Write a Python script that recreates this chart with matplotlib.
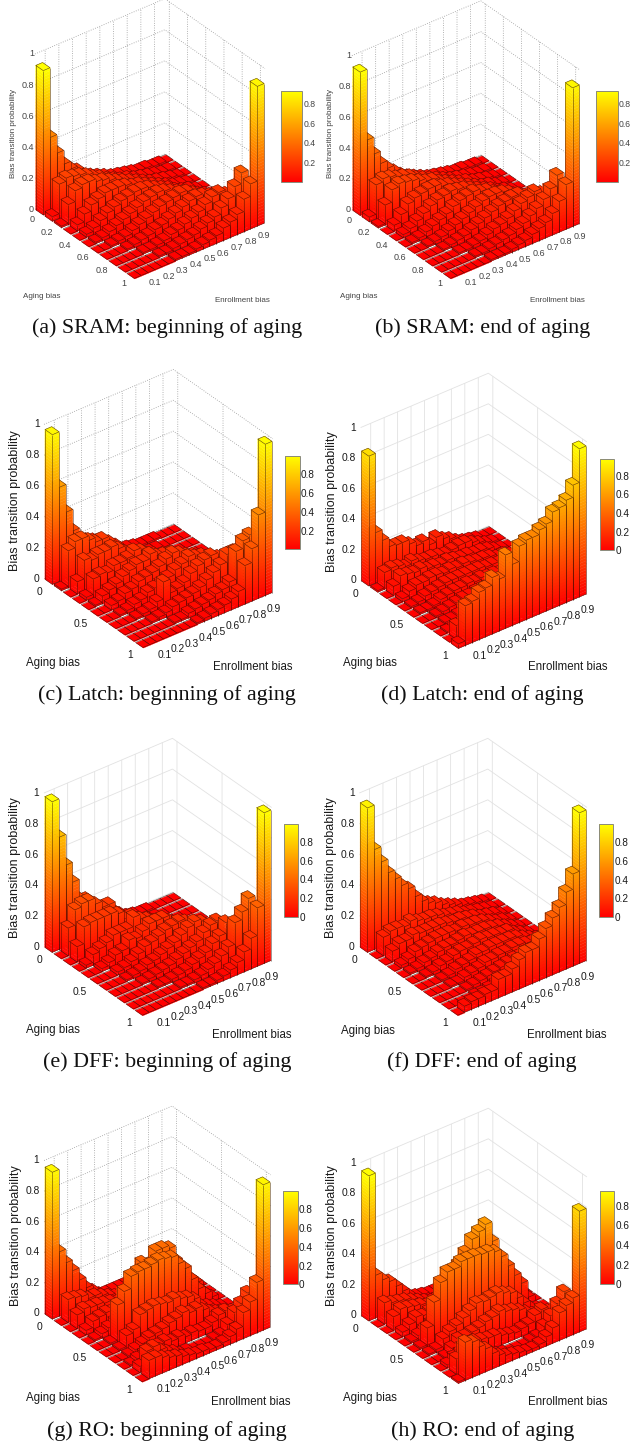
import numpy as np
import matplotlib
matplotlib.use("Agg")
import matplotlib.pyplot as plt
from matplotlib import cm
from matplotlib.colors import Normalize
from mpl_toolkits.mplot3d import proj3d
from mpl_toolkits.mplot3d.art3d import Poly3DCollection, Line3DCollection

W, H = 630, 1446

# bias transition probabilities in hundredths, rows aging 0..1, columns enrollment 0.05..0.95
sram_begin = [
    [93, 48, 36, 27, 22, 19, 14, 12, 10, 8, 6, 5, 4, 3, 2, 2, 1, 1, 0],
    [3, 22, 24, 23, 22, 20, 17, 15, 12, 10, 8, 7, 5, 4, 3, 2, 1, 1, 0],
    [1, 13, 20, 22, 22, 20, 19, 17, 15, 13, 11, 9, 7, 5, 4, 3, 2, 1, 0],
    [0, 4, 9, 13, 15, 17, 17, 17, 16, 14, 13, 11, 9, 7, 5, 3, 2, 1, 0],
    [0, 2, 4, 7, 10, 12, 14, 15, 16, 16, 15, 13, 11, 9, 6, 4, 3, 1, 0],
    [0, 1, 2, 4, 6, 8, 10, 12, 14, 15, 16, 15, 13, 11, 9, 6, 4, 2, 0],
    [0, 0, 1, 2, 3, 5, 7, 9, 11, 13, 14, 15, 16, 15, 12, 9, 6, 3, 0],
    [0, 0, 0, 1, 2, 3, 4, 6, 7, 9, 11, 13, 15, 16, 15, 13, 9, 5, 1],
    [0, 0, 0, 0, 1, 1, 2, 3, 5, 6, 8, 10, 12, 15, 18, 19, 16, 11, 2],
    [0, 0, 0, 0, 0, 1, 1, 2, 3, 4, 5, 7, 9, 11, 15, 19, 25, 32, 3],
    [0, 0, 0, 0, 0, 0, 1, 1, 1, 2, 3, 4, 5, 8, 10, 13, 21, 29, 90],
]
sram_end = [
    [93, 47, 36, 28, 23, 19, 15, 12, 10, 8, 6, 5, 4, 3, 2, 2, 1, 1, 0],
    [3, 22, 24, 23, 21, 20, 18, 15, 13, 11, 9, 7, 5, 4, 3, 2, 1, 1, 0],
    [1, 13, 21, 23, 22, 21, 19, 17, 16, 13, 11, 9, 7, 6, 4, 3, 2, 1, 0],
    [0, 4, 9, 14, 16, 17, 18, 18, 16, 15, 13, 11, 9, 7, 5, 4, 2, 1, 0],
    [0, 2, 4, 7, 10, 13, 15, 16, 17, 16, 15, 13, 11, 9, 7, 4, 3, 1, 0],
    [0, 1, 2, 4, 6, 8, 10, 13, 15, 16, 17, 15, 14, 11, 9, 6, 4, 2, 0],
    [0, 0, 1, 2, 3, 5, 7, 9, 11, 13, 15, 16, 16, 15, 13, 9, 6, 3, 0],
    [0, 0, 0, 1, 2, 3, 4, 6, 8, 10, 12, 14, 15, 16, 16, 13, 9, 5, 1],
    [0, 0, 0, 0, 1, 1, 2, 3, 5, 7, 8, 10, 13, 16, 18, 20, 17, 11, 2],
    [0, 0, 0, 0, 0, 1, 1, 2, 3, 4, 5, 7, 9, 12, 15, 19, 24, 31, 3],
    [0, 0, 0, 0, 0, 0, 1, 1, 1, 2, 3, 4, 6, 8, 10, 14, 20, 29, 90],
]
latch_begin = [
    [97, 61, 43, 29, 21, 19, 17, 15, 11, 6, 4, 3, 2, 1, 1, 1, 0, 0, 0],
    [1, 24, 28, 28, 25, 22, 22, 18, 14, 8, 5, 3, 2, 1, 1, 0, 0, 0, 0],
    [0, 8, 20, 18, 20, 20, 21, 18, 14, 11, 8, 5, 3, 2, 1, 0, 0, 0, 0],
    [0, 2, 12, 13, 12, 15, 15, 16, 19, 17, 13, 11, 8, 5, 3, 1, 0, 0, 0],
    [0, 1, 5, 7, 9, 12, 14, 16, 16, 19, 16, 15, 14, 11, 8, 4, 2, 0, 0],
    [0, 0, 3, 4, 7, 8, 11, 12, 13, 15, 18, 20, 18, 15, 13, 7, 3, 1, 0],
    [0, 0, 1, 2, 4, 5, 8, 9, 10, 12, 15, 17, 20, 18, 17, 11, 7, 2, 0],
    [0, 0, 0, 1, 2, 3, 6, 17, 8, 9, 11, 15, 18, 20, 21, 18, 12, 4, 0],
    [0, 0, 0, 0, 1, 2, 3, 5, 6, 7, 8, 10, 13, 16, 19, 24, 24, 12, 1],
    [0, 0, 0, 0, 0, 0, 1, 1, 3, 4, 5, 6, 8, 9, 12, 30, 35, 37, 2],
    [0, 0, 0, 0, 0, 0, 0, 0, 1, 2, 3, 4, 5, 7, 10, 25, 34, 54, 98],
]
latch_end = [
    [85, 33, 26, 20, 19, 19, 16, 13, 14, 10, 13, 10, 8, 5, 3, 2, 1, 0, 0],
    [1, 11, 12, 11, 9, 11, 9, 8, 8, 7, 6, 7, 8, 8, 6, 4, 2, 1, 0],
    [0, 6, 11, 10, 9, 10, 8, 8, 7, 8, 7, 6, 6, 5, 5, 4, 2, 1, 0],
    [0, 2, 5, 7, 7, 8, 8, 7, 8, 7, 8, 7, 6, 6, 5, 3, 3, 1, 0],
    [0, 1, 2, 4, 5, 6, 7, 7, 7, 7, 7, 7, 6, 6, 5, 4, 2, 1, 0],
    [0, 1, 1, 2, 4, 5, 6, 6, 7, 6, 7, 6, 6, 5, 5, 3, 2, 1, 0],
    [0, 0, 1, 2, 3, 4, 5, 5, 6, 6, 6, 7, 5, 6, 4, 3, 3, 1, 0],
    [0, 0, 1, 1, 2, 4, 4, 5, 5, 6, 6, 5, 5, 4, 4, 3, 2, 1, 0],
    [0, 1, 1, 2, 3, 3, 4, 5, 6, 5, 5, 5, 4, 4, 3, 3, 2, 1, 0],
    [0, 9, 9, 8, 8, 7, 7, 8, 8, 6, 6, 5, 5, 4, 3, 3, 2, 1, 1],
    [3, 26, 27, 31, 32, 37, 34, 48, 40, 50, 52, 52, 55, 57, 63, 64, 67, 75, 97],
]
dff_begin = [
    [98, 73, 53, 40, 27, 25, 20, 16, 12, 9, 6, 3, 2, 1, 1, 0, 0, 0, 0],
    [0, 18, 28, 30, 30, 26, 22, 22, 15, 10, 7, 4, 2, 1, 1, 0, 0, 0, 0],
    [0, 10, 21, 22, 22, 22, 22, 20, 15, 15, 11, 7, 4, 2, 1, 0, 0, 0, 0],
    [0, 2, 7, 9, 11, 14, 14, 14, 20, 17, 15, 12, 9, 6, 3, 1, 0, 0, 0],
    [0, 0, 2, 4, 7, 8, 13, 12, 15, 18, 18, 18, 14, 10, 6, 2, 1, 0, 0],
    [0, 0, 0, 2, 3, 5, 8, 11, 12, 14, 16, 17, 18, 16, 12, 5, 3, 0, 0],
    [0, 0, 0, 1, 2, 3, 5, 6, 8, 10, 12, 15, 18, 20, 18, 12, 4, 1, 0],
    [0, 0, 0, 0, 1, 2, 3, 4, 5, 7, 9, 11, 13, 17, 20, 21, 10, 2, 0],
    [0, 0, 0, 0, 0, 1, 1, 2, 3, 4, 6, 8, 10, 14, 17, 24, 14, 4, 0],
    [0, 0, 0, 0, 0, 0, 0, 1, 1, 2, 3, 5, 7, 10, 14, 28, 33, 40, 1],
    [0, 0, 0, 0, 0, 0, 0, 0, 0, 1, 1, 2, 3, 5, 8, 13, 20, 38, 98],
]
dff_end = [
    [94, 65, 55, 46, 40, 34, 30, 23, 18, 15, 13, 10, 8, 6, 4, 3, 2, 1, 0],
    [0, 12, 14, 14, 13, 15, 13, 12, 12, 11, 9, 8, 7, 5, 4, 3, 2, 1, 0],
    [0, 7, 10, 10, 12, 11, 11, 11, 11, 10, 9, 9, 8, 7, 5, 4, 3, 1, 0],
    [0, 2, 4, 7, 8, 9, 10, 10, 10, 9, 10, 9, 9, 8, 6, 4, 3, 1, 0],
    [0, 1, 2, 4, 5, 7, 8, 8, 9, 10, 9, 9, 9, 8, 7, 5, 3, 1, 0],
    [0, 0, 1, 2, 4, 5, 7, 8, 8, 9, 10, 9, 9, 8, 8, 5, 3, 1, 0],
    [0, 0, 0, 1, 2, 4, 5, 6, 8, 8, 9, 9, 9, 9, 8, 6, 4, 2, 0],
    [0, 0, 0, 1, 1, 3, 4, 5, 7, 7, 8, 8, 9, 9, 8, 7, 4, 2, 0],
    [0, 0, 0, 0, 1, 2, 3, 4, 5, 6, 7, 8, 8, 9, 9, 8, 6, 3, 0],
    [0, 0, 0, 0, 1, 1, 2, 3, 4, 5, 7, 7, 8, 9, 9, 10, 9, 5, 1],
    [0, 4, 5, 5, 6, 6, 12, 12, 15, 19, 22, 22, 27, 32, 37, 42, 50, 60, 98],
]
ro_begin = [
    [96, 42, 33, 26, 18, 11, 7, 3, 2, 2, 2, 2, 3, 3, 3, 4, 2, 1, 0],
    [0, 15, 14, 13, 10, 10, 8, 6, 4, 3, 3, 3, 3, 4, 3, 2, 1, 0, 0],
    [0, 9, 11, 10, 10, 9, 8, 6, 8, 6, 5, 6, 8, 9, 6, 3, 2, 0, 0],
    [0, 3, 7, 8, 9, 8, 8, 9, 9, 10, 12, 16, 20, 22, 12, 7, 3, 1, 0],
    [0, 1, 3, 5, 7, 8, 9, 22, 38, 35, 42, 42, 40, 30, 22, 13, 10, 2, 0],
    [0, 0, 1, 24, 31, 39, 40, 40, 41, 42, 41, 40, 34, 29, 20, 12, 7, 3, 0],
    [0, 0, 1, 8, 10, 18, 19, 20, 19, 18, 19, 17, 16, 13, 7, 5, 3, 1, 0],
    [0, 0, 1, 3, 5, 7, 8, 9, 11, 12, 14, 12, 13, 10, 7, 5, 3, 1, 0],
    [0, 1, 3, 4, 6, 6, 7, 5, 6, 4, 5, 4, 4, 6, 9, 10, 8, 3, 0],
    [0, 4, 12, 13, 9, 6, 4, 1, 1, 0, 0, 0, 1, 2, 7, 13, 17, 22, 1],
    [0, 12, 12, 10, 8, 7, 5, 4, 3, 3, 2, 2, 3, 5, 8, 17, 22, 33, 95],
]
ro_end = [
    [95, 28, 23, 20, 15, 10, 5, 3, 2, 1, 1, 1, 2, 3, 3, 3, 2, 1, 0],
    [0, 14, 12, 11, 10, 8, 6, 4, 2, 2, 2, 3, 4, 5, 4, 3, 1, 0, 0],
    [0, 9, 12, 11, 10, 9, 7, 5, 6, 7, 6, 6, 8, 9, 7, 4, 2, 0, 0],
    [0, 3, 6, 9, 8, 9, 9, 10, 12, 13, 15, 18, 22, 25, 14, 8, 4, 1, 0],
    [0, 1, 3, 5, 7, 8, 14, 28, 38, 44, 51, 54, 57, 44, 25, 12, 9, 2, 0],
    [0, 1, 12, 27, 38, 43, 43, 46, 46, 46, 45, 45, 43, 38, 30, 22, 15, 4, 0],
    [0, 1, 2, 7, 10, 12, 15, 18, 21, 20, 21, 22, 20, 18, 13, 8, 3, 1, 0],
    [0, 0, 1, 5, 9, 9, 10, 11, 13, 14, 16, 14, 13, 11, 8, 5, 3, 1, 0],
    [0, 2, 5, 6, 8, 10, 9, 8, 8, 6, 5, 4, 5, 6, 10, 12, 9, 4, 0],
    [0, 10, 16, 15, 12, 9, 5, 2, 1, 0, 0, 0, 1, 2, 7, 12, 18, 24, 1],
    [1, 25, 23, 18, 15, 10, 7, 5, 4, 3, 2, 2, 3, 6, 10, 18, 21, 24, 79],
]

enroll_ticks = [1, 3, 5, 7, 9, 11, 13, 15, 17]
enroll_labels = ["0.1", "0.2", "0.3", "0.4", "0.5", "0.6", "0.7", "0.8", "0.9"]
z_ticks = [0, 0.2, 0.4, 0.6, 0.8, 1]
z_labels = ["0", "0.2", "0.4", "0.6", "0.8", "1"]

panels = [
    dict(name="(a) SRAM: beginning of aging", data=sram_begin, vmax=0.93, cbmin=0.0,
         L=(35, 208), B=(135, 279), R=(265, 225), cb=(281, 91, 302, 182),
         cap=(167, 328), aging=(42, 297), enroll=(242, 300), zlab=(13.5, 133), small=True,
         dotted=True, cbt=[0.2, 0.4, 0.6, 0.8]),
    dict(name="(b) SRAM: end of aging", data=sram_end, vmax=0.93, cbmin=0.0,
         L=(351.7, 209), B=(451.7, 279), R=(580, 225), cb=(596, 91, 617.5, 182),
         cap=(482.5, 328), aging=(358.5, 297), enroll=(557, 300), zlab=(330, 133), small=True,
         dotted=True, cbt=[0.2, 0.4, 0.6, 0.8]),
    dict(name="(c) Latch: beginning of aging", data=latch_begin, vmax=0.995, cbmin=0.01,
         L=(44, 577), B=(144, 649), R=(272.7, 594), cb=(285, 455.5, 299.5, 549),
         cap=(166.7, 695), aging=(53.3, 663.5), enroll=(252.7, 667.5), zlab=(15, 501), small=False,
         dotted=True, cbt=[0.2, 0.4, 0.6, 0.8]),
    dict(name="(d) Latch: end of aging", data=latch_end, vmax=0.98, cbmin=0.0,
         L=(360.7, 581), B=(459, 649), R=(587, 594), cb=(599.7, 458.7, 614.3, 550.3),
         cap=(482, 695), aging=(370, 663.5), enroll=(567.7, 667.5), zlab=(331.7, 502), small=False,
         dotted=False, cbt=[0, 0.2, 0.4, 0.6, 0.8]),
    dict(name="(e) DFF: beginning of aging", data=dff_begin, vmax=0.99, cbmin=0.0,
         L=(44, 944), B=(143, 1016.7), R=(271.7, 963), cb=(283.7, 824, 298.3, 916.7),
         cap=(166.7, 1062), aging=(53.3, 1030.5), enroll=(251.7, 1035), zlab=(15, 868), small=False,
         dotted=False, cbt=[0, 0.2, 0.4, 0.6, 0.8]),
    dict(name="(f) DFF: end of aging", data=dff_end, vmax=0.99, cbmin=0.0,
         L=(359, 944), B=(459, 1016.7), R=(586.7, 963), cb=(598.7, 824.3, 613.3, 917),
         cap=(482, 1062), aging=(368.3, 1031), enroll=(566.7, 1035), zlab=(331, 868), small=False,
         dotted=False, cbt=[0, 0.2, 0.4, 0.6, 0.8]),
    dict(name="(g) RO: beginning of aging", data=ro_begin, vmax=0.99, cbmin=0.0,
         L=(44, 1311.7), B=(143, 1383), R=(270.7, 1329), cb=(283.3, 1191.3, 297.7, 1284.3),
         cap=(167, 1430.7), aging=(53.3, 1398), enroll=(251, 1402), zlab=(15.7, 1236), small=False,
         dotted=True, cbt=[0, 0.2, 0.4, 0.6, 0.8]),
    dict(name="(h) RO: end of aging", data=ro_end, vmax=0.945, cbmin=0.0,
         L=(360.7, 1315), B=(459, 1384), R=(587, 1330), cb=(599.7, 1191.3, 614.3, 1284.3),
         cap=(482.7, 1430.7), aging=(370, 1398), enroll=(567.7, 1402), zlab=(332.3, 1236), small=False,
         dotted=False, cbt=[0, 0.2, 0.4, 0.6, 0.8]),
]

sans = "Liberation Sans"
serif = "Liberation Serif"
cmap = matplotlib.colormaps["autumn"]
fig = plt.figure(figsize=(W / 100, H / 100), dpi=100)


def to_pixels(ax, x, y, z):
    px, py, _ = proj3d.proj_transform(x, y, z, ax.get_proj())
    return ax.transData.transform((px, py))


def fit_axes(ax, p):
    # scale and shift the square 3d axes so the floor corners land where they are in the picture
    corners = [(-0.5, -0.5, 0), (-0.5, 10.5, 0), (18.5, 10.5, 0)]
    targets = np.array([[q[0], H - q[1]] for q in (p["L"], p["B"], p["R"])])
    ax.apply_aspect()
    cur = np.array([to_pixels(ax, *c) for c in corners])
    s = (targets[2, 0] - targets[0, 0]) / (cur[2, 0] - cur[0, 0])
    size = 315 * s
    ax.set_position([0, 0, size / W, size / H])
    ax.apply_aspect()
    cur = np.array([to_pixels(ax, *c) for c in corners])
    shift = (targets - cur).mean(axis=0)
    ax.set_position([shift[0] / W, shift[1] / H, size / W, size / H])
    ax.apply_aspect()


def draw_bars(ax, values, vmax):
    order = 0
    for a in range(values.shape[0]):
        for k in range(values.shape[1] - 1, -1, -1):
            h = values[a, k]
            x0, x1, y0, y1 = k - 0.5, k + 0.5, a - 0.41, a + 0.41
            polys, cols = [], []
            n = int(np.ceil(h / 0.02))
            for i in range(n):
                z0, z1 = h * i / n, h * (i + 1) / n
                c = cmap(min((z0 + z1) / 2 / vmax, 1.0))
                polys.append([(x0, y0, z0), (x0, y1, z0), (x0, y1, z1), (x0, y0, z1)])
                cols.append(c)
                polys.append([(x0, y1, z0), (x1, y1, z0), (x1, y1, z1), (x0, y1, z1)])
                cols.append(c)
            polys.append([(x0, y0, h), (x1, y0, h), (x1, y1, h), (x0, y1, h)])
            cols.append(cmap(min(h / vmax, 1.0)))
            coll = Poly3DCollection(polys, facecolors=cols, edgecolors=cols, linewidths=0.25)
            coll.set_zorder(10 + order)
            ax.add_collection3d(coll)
            segs = [[(x0, y0, h), (x1, y0, h)], [(x1, y0, h), (x1, y1, h)],
                    [(x1, y1, h), (x0, y1, h)], [(x0, y1, h), (x0, y0, h)]]
            if h > 0:
                segs += [[(x0, y0, 0), (x0, y0, h)], [(x0, y1, 0), (x0, y1, h)],
                         [(x1, y1, 0), (x1, y1, h)], [(x0, y0, 0), (x0, y1, 0)],
                         [(x0, y1, 0), (x1, y1, 0)]]
            lines = Line3DCollection(segs, colors="#2a0800", linewidths=0.4, alpha=0.75)
            lines.set_zorder(10.5 + order)
            ax.add_collection3d(lines)
            order += 1


def draw_panel(p):
    values = np.array(p["data"]) / 100
    small = p["small"]
    tick_fs = 6.5 if small else 7.4
    label_fs = 5.8 if small else 8.3
    zlab_fs = 5.8 if small else 9.0
    text_col = "#444444" if small else "#1a1a1a"

    ax = fig.add_axes([0, 0, 315 / W, 315 / H], projection="3d")
    ax.set_proj_type("ortho")
    ax.set_facecolor("none")
    ax.computed_zorder = False
    ax.view_init(elev=33, azim=-128)
    ax.set_box_aspect((162, 160, 182))
    ax.set_xlim(-0.5, 18.5, view_margin=0)
    ax.set_ylim(10.5, -0.5, view_margin=0)
    ax.set_zlim(0, 1, view_margin=0)

    aging_ticks = [0, 2, 4, 6, 8, 10] if small else [0, 5, 10]
    aging_labels = ["0", "0.2", "0.4", "0.6", "0.8", "1"] if small else ["0", "0.5", "1"]
    ax.set_xticks(enroll_ticks, labels=[""] * len(enroll_ticks))
    ax.set_yticks(aging_ticks, labels=[""] * len(aging_ticks))
    ax.set_zticks(z_ticks, labels=[""] * len(z_ticks))

    grid_col = "#9a9a9a" if p["dotted"] else "#e2e2e2"
    grid_ls = (0, (1, 1.8)) if p["dotted"] else "-"
    for axis in (ax.xaxis, ax.yaxis, ax.zaxis):
        axis.set_pane_color((1, 1, 1, 0))
        axis.pane.set_edgecolor((1, 1, 1, 0))
        axis.line.set_color((0, 0, 0, 0))
        axis._axinfo["tick"].update(inward_factor=0, outward_factor=0)
        axis._axinfo["grid"].update(color=grid_col, linewidth=0.6, linestyle=grid_ls)

    draw_bars(ax, values, p["vmax"])
    fit_axes(ax, p)

    # tick labels are placed next to the projected floor and wall edges
    off_a = (-4.5, -7.3) if small else (-6.5, -10.5)
    off_e = (9.5, -7.5) if small else (10.7, -11.3)
    off_z = -1.0 if small else -4.7
    for t, lab in zip(aging_ticks, aging_labels):
        q = to_pixels(ax, -0.5, t, 0)
        fig.text((q[0] + off_a[0]) / W, (q[1] + off_a[1]) / H, lab, ha="right", va="center",
                 family=sans, fontsize=tick_fs, color=text_col)
    for t, lab in zip(enroll_ticks, enroll_labels):
        q = to_pixels(ax, t, 10.5, 0)
        fig.text((q[0] + off_e[0]) / W, (q[1] + off_e[1]) / H, lab, ha="center", va="center",
                 family=sans, fontsize=tick_fs, color=text_col)
    for t, lab in zip(z_ticks, z_labels):
        q = to_pixels(ax, -0.5, -0.5, t)
        fig.text((q[0] + off_z) / W, q[1] / H, lab, ha="right", va="center",
                 family=sans, fontsize=tick_fs, color=text_col)

    fig.text(p["aging"][0] / W, 1 - p["aging"][1] / H, "Aging bias", ha="center", va="center",
             family=sans, fontsize=label_fs, color=text_col)
    fig.text(p["enroll"][0] / W, 1 - p["enroll"][1] / H, "Enrollment bias", ha="center", va="center",
             family=sans, fontsize=label_fs, color=text_col)
    fig.text(p["zlab"][0] / W, 1 - p["zlab"][1] / H, "Bias transition probability", rotation=90,
             ha="center", va="center", family=sans, fontsize=zlab_fs, color=text_col)
    fig.text(p["cap"][0] / W, 1 - p["cap"][1] / H, p["name"], ha="center", va="center",
             family=serif, fontsize=15.8, color="#111111")

    x0, y0, x1, y1 = p["cb"]
    cax = fig.add_axes([x0 / W, 1 - y1 / H, (x1 - x0) / W, (y1 - y0) / H])
    sm = cm.ScalarMappable(norm=Normalize(p["cbmin"], p["vmax"]), cmap=cmap)
    cb = fig.colorbar(sm, cax=cax)
    cb.set_ticks(p["cbt"], labels=[("%g" % t) for t in p["cbt"]])
    cb.ax.tick_params(length=0, pad=1, labelsize=6.2 if small else 7.2, labelcolor=text_col)
    for lab in cb.ax.get_yticklabels():
        lab.set_family(sans)
    cb.outline.set_edgecolor("#8a8a7a")
    cb.outline.set_linewidth(0.7)


for p in panels:
    draw_panel(p)

fig.savefig("out.png", dpi=100)
